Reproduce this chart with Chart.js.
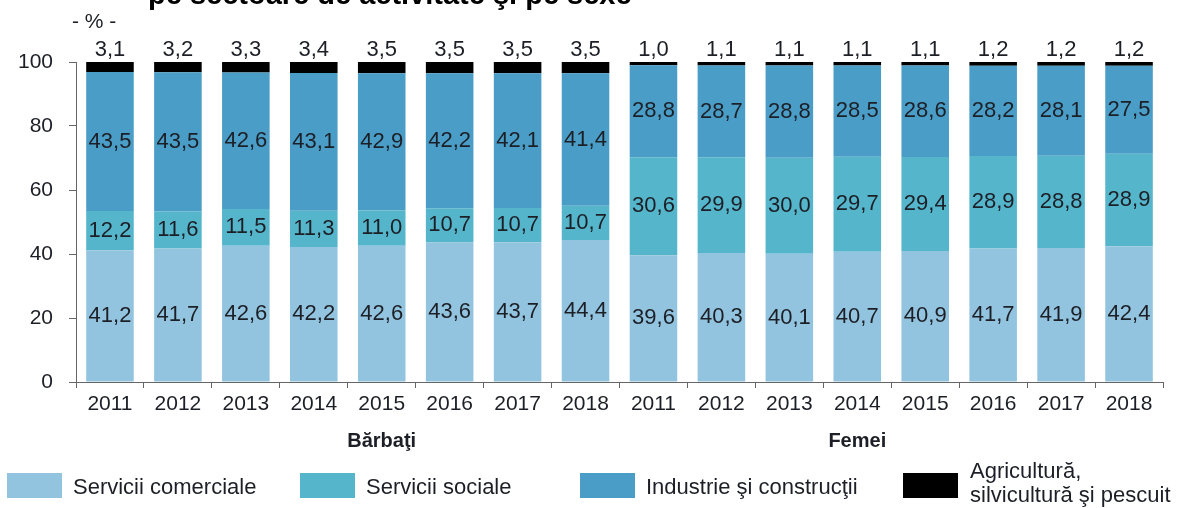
<!DOCTYPE html>
<html>
  <head>
    <script src="https://cdn.jsdelivr.net/npm/chart.js@4"></script>
    <style>
      body { margin: 0; background: #fff; }
      #wrap { width: 1180px; height: 508px; }
    </style>
  </head>

  <body>
    <div id="wrap">
      <canvas id="canvas"></canvas>
    </div>
    <script>
      const years = ['2011', '2012', '2013', '2014', '2015', '2016', '2017', '2018'];
      const groups = ['Bărbaţi', 'Femei'];

      // Bărbaţi
      const menComerciale = [41.2, 41.7, 42.6, 42.2, 42.6, 43.6, 43.7, 44.4];
      const menSociale = [12.2, 11.6, 11.5, 11.3, 11.0, 10.7, 10.7, 10.7];
      const menIndustrie = [43.5, 43.5, 42.6, 43.1, 42.9, 42.2, 42.1, 41.4];
      const menAgricultura = [3.1, 3.2, 3.3, 3.4, 3.5, 3.5, 3.5, 3.5];

      // Femei
      const womenComerciale = [39.6, 40.3, 40.1, 40.7, 40.9, 41.7, 41.9, 42.4];
      const womenSociale = [30.6, 29.9, 30.0, 29.7, 29.4, 28.9, 28.8, 28.9];
      const womenIndustrie = [28.8, 28.7, 28.8, 28.5, 28.6, 28.2, 28.1, 27.5];
      const womenAgricultura = [1.0, 1.1, 1.1, 1.1, 1.1, 1.2, 1.2, 1.2];

      const yTicks = [0, 20, 40, 60, 80, 100];

      const FONT = "'Liberation Sans', Arial, sans-serif";
      const TEXT = '#1c1f26';
      const AXIS = '#666';

      const series = [
        { label: 'Servicii comerciale', data: [...menComerciale, ...womenComerciale], color: '#93c4df' },
        { label: 'Servicii sociale', data: [...menSociale, ...womenSociale], color: '#55b5cb' },
        { label: 'Industrie şi construcţii', data: [...menIndustrie, ...womenIndustrie], color: '#4a9dc6' },
        { label: 'Agricultură,\nsilvicultură şi pescuit', data: [...menAgricultura, ...womenAgricultura], color: '#000000' },
      ];

      const fmt = (v) => v.toFixed(1).replace('.', ',');

      // numbers inside the segments, agriculture above the bar
      const valueLabels = {
        id: 'valueLabels',
        afterDatasetsDraw(chart) {
          const ctx = chart.ctx;
          ctx.save();
          ctx.fillStyle = TEXT;
          ctx.font = '22px ' + FONT;
          ctx.textAlign = 'center';
          chart.data.datasets.forEach((ds, i) => {
            const meta = chart.getDatasetMeta(i);
            meta.data.forEach((bar, j) => {
              const v = ds.data[j];
              if (i === 3) {
                ctx.textBaseline = 'bottom';
                ctx.fillText(fmt(v), bar.x, bar.y - 1);
              } else {
                ctx.textBaseline = 'middle';
                ctx.fillText(fmt(v), bar.x, (bar.y + bar.base) / 2);
              }
            });
          });
          ctx.restore();
        },
      };

      // title remnant, unit, group names and legend
      const decorations = {
        id: 'decorations',
        afterDraw(chart) {
          const ctx = chart.ctx;
          const x = chart.scales.x;
          ctx.save();
          ctx.fillStyle = '#000';
          ctx.textAlign = 'left';
          ctx.textBaseline = 'alphabetic';
          ctx.font = 'bold 29px ' + FONT;
          ctx.fillText('pe sectoare de activitate şi pe sexe', 148, 4);

          ctx.fillStyle = TEXT;
          ctx.font = '21px ' + FONT;
          ctx.textBaseline = 'middle';
          ctx.fillText('- % -', 72, 22);

          ctx.font = 'bold 20px ' + FONT;
          ctx.textAlign = 'center';
          ctx.fillText(groups[0], x.getPixelForValue(4), 441);
          ctx.fillText(groups[1], x.getPixelForValue(11), 441);

          const swX = [7, 300, 580, 903];
          ctx.font = '22px ' + FONT;
          ctx.textAlign = 'left';
          series.forEach((s, i) => {
            ctx.fillStyle = s.color;
            ctx.fillRect(swX[i], 473, 55, 25);
            ctx.fillStyle = TEXT;
            const lines = s.label.split('\n');
            if (lines.length === 1) {
              ctx.fillText(lines[0], swX[i] + 66, 488);
            } else {
              ctx.fillText(lines[0], swX[i] + 67, 472);
              ctx.fillText(lines[1], swX[i] + 67, 496);
            }
          });
          ctx.restore();
        },
      };

      new Chart(document.getElementById('canvas').getContext('2d'), {
        type: 'bar',
        data: {
          labels: [...years, ...years],
          datasets: series.map((s) => ({
            label: s.label,
            data: s.data,
            backgroundColor: s.color,
            borderWidth: 0,
            barPercentage: 0.7,
            categoryPercentage: 1,
          })),
        },
        options: {
          responsive: true,
          maintainAspectRatio: false,
          animation: false,
          layout: { padding: { top: 62, right: 17, left: 0, bottom: 0 } },
          plugins: {
            legend: { display: false },
            tooltip: { enabled: false },
          },
          scales: {
            x: {
              stacked: true,
              afterFit: (s) => { s.height = 126; },
              grid: { drawOnChartArea: false, offset: true, tickLength: 6, color: AXIS },
              border: { color: AXIS },
              ticks: { color: TEXT, font: { family: FONT, size: 21 }, padding: 4, maxRotation: 0, autoSkip: false },
            },
            y: {
              stacked: true,
              min: 0,
              max: 100,
              afterFit: (s) => { s.width = 76; },
              afterBuildTicks: (s) => { s.ticks = yTicks.map((v) => ({ value: v })); },
              grid: { drawOnChartArea: false, tickLength: 7, color: AXIS },
              border: { color: AXIS },
              ticks: { color: TEXT, font: { family: FONT, size: 21 }, padding: 16 },
            },
          },
        },
        plugins: [valueLabels, decorations],
      });
    </script>
  </body>
</html>
